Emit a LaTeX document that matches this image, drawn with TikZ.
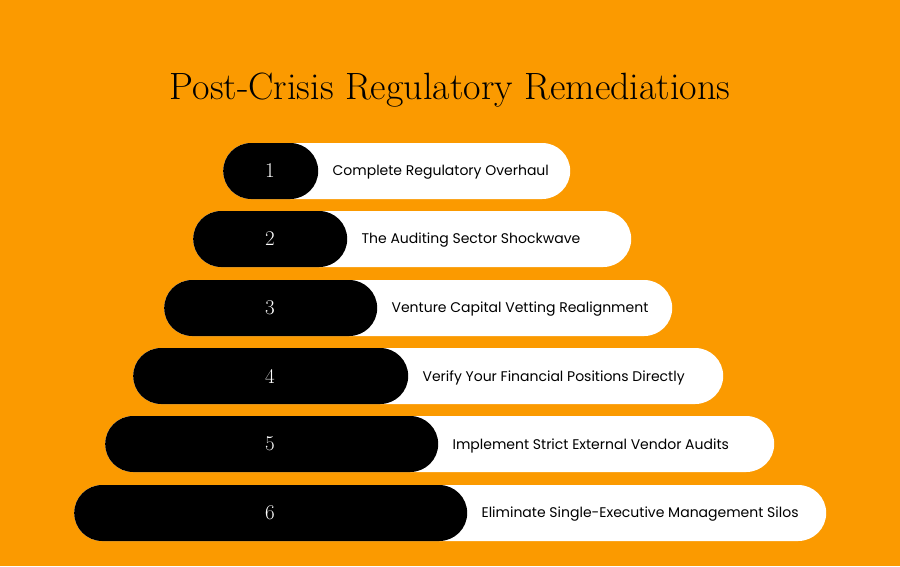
\documentclass[tikz,border=0pt]{standalone}
\usepackage{fontspec}
\setsansfont{Poppins}
\usetikzlibrary{positioning}
\definecolor{bgorange}{HTML}{FB9A00}
\tikzset{
  pill/.style={rectangle, rounded corners=28pt, minimum height=56pt, inner sep=0pt, anchor=west},
  whitepill/.style={pill, fill=white},
  blackpill/.style={pill, fill=black},
  num/.style={text=white, font=\fontsize{21}{24}\selectfont},
  item/.style={anchor=west, font=\sffamily\fontsize{14}{17}\selectfont, inner sep=0pt, yshift=-1.5pt}
}
\begin{document}
\begin{tikzpicture}[x=1pt,y=-1pt]
\fill[bgorange] (0,0) rectangle (900,566);
\useasboundingbox (0,0) rectangle (900,566);
\node (title) at (450,90) {\fontsize{38}{44}\selectfont Post-Crisis Regulatory Remediations};
% rows
\foreach \n/\y/\l/\r/\b/\txt in {
  1/171/223/570/318/Complete Regulatory Overhaul,
  2/239/193/631/347/The Auditing Sector Shockwave,
  3/308/164/672/377/Venture Capital Vetting Realignment,
  4/376/133/723/408/Verify Your Financial Positions Directly,
  5/444/105/774/438/Implement Strict External Vendor Audits,
  6/513/74/826/467/Eliminate Single-Executive Management Silos}{
  \node[whitepill, minimum width=\r-\l] (bar\n) at (\l,\y) {};
  \node[blackpill, minimum width=\b-\l] (blk\n) at (\l,\y) {};
  \node[num] (num\n) at (270,\y) {\n};
  \node[item, right=14pt of blk\n] (lbl\n) {\txt};
}
\end{tikzpicture}
\end{document}
